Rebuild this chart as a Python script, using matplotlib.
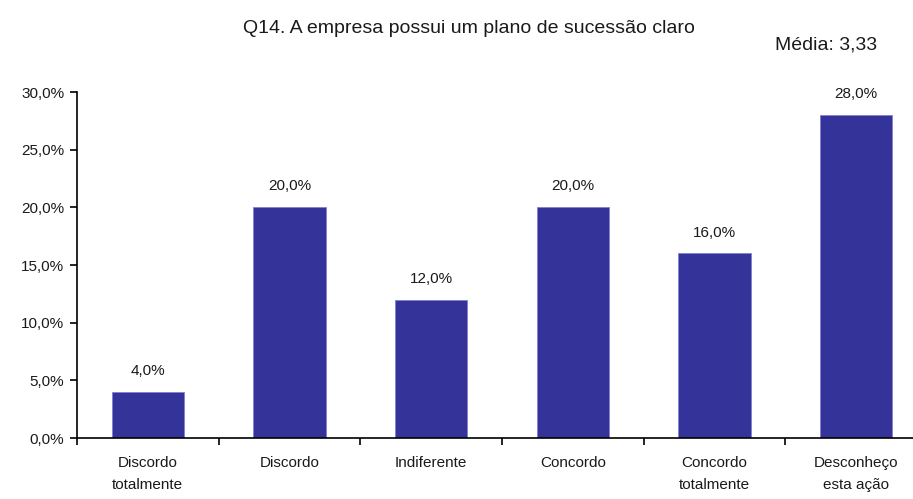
import numpy as np
import matplotlib
matplotlib.use("Agg")
from matplotlib import pyplot as plt

categorias = ["Discordo\ntotalmente", "Discordo", "Indiferente", "Concordo",
              "Concordo\ntotalmente", "Desconheço\nesta ação"]
percentuais = [4.0, 20.0, 12.0, 20.0, 16.0, 28.0]
rotulos_y = ["0,0%", "5,0%", "10,0%", "15,0%", "20,0%", "25,0%", "30,0%"]
titulo = "Q14. A empresa possui um plano de sucessão claro"
media = "Média: 3,33"

plt.rcParams['font.family'] = ['Liberation Sans', 'DejaVu Sans']
cor_texto = '#1a1a1a'

fig = plt.figure(figsize=(9.13, 4.99), dpi=100)
# the axis runs a little past the right edge of the figure
ax = fig.add_axes([0.0843, 0.1222, 0.931, 0.6934])

x = np.arange(len(categorias))
ax.bar(x, percentuais, width=0.51, color='#333399', edgecolor='#8080d0', linewidth=0.6)

for xi, v in zip(x, percentuais):
    ax.annotate(("%.1f%%" % v).replace('.', ','), (xi, v), xytext=(0, 10),
                textcoords='offset points', ha='center', va='bottom',
                fontsize=11, color=cor_texto)

ax.set_xlim(-0.5, len(categorias) - 0.5)
ax.set_ylim(0, 30)
ax.set_yticks(np.arange(0, 31, 5))
ax.set_yticklabels(rotulos_y, fontsize=11, color=cor_texto)

# ticks between categories, labels centred under bars
ax.set_xticks(np.arange(-0.5, len(categorias) - 0.4, 1))
ax.set_xticklabels([])
ax.set_xticks(x, minor=True)
ax.set_xticklabels(categorias, minor=True, fontsize=11, color=cor_texto,
                   linespacing=1.75, va='top')
ax.tick_params(axis='x', which='minor', length=0, pad=13)
ax.tick_params(axis='x', which='major', length=5, direction='out', width=1.2)
ax.tick_params(axis='y', length=5, direction='out', pad=4, width=1.2)

for s in ['top', 'right']:
    ax.spines[s].set_visible(False)
ax.spines['left'].set_linewidth(1.2)
ax.spines['bottom'].set_linewidth(1.2)

fig.text(0.514, 0.942, titulo, ha='center', va='center', fontsize=14, color=cor_texto)
fig.text(0.905, 0.91, media, ha='center', va='center', fontsize=14, color=cor_texto)

plt.savefig('out.png', dpi=100)
